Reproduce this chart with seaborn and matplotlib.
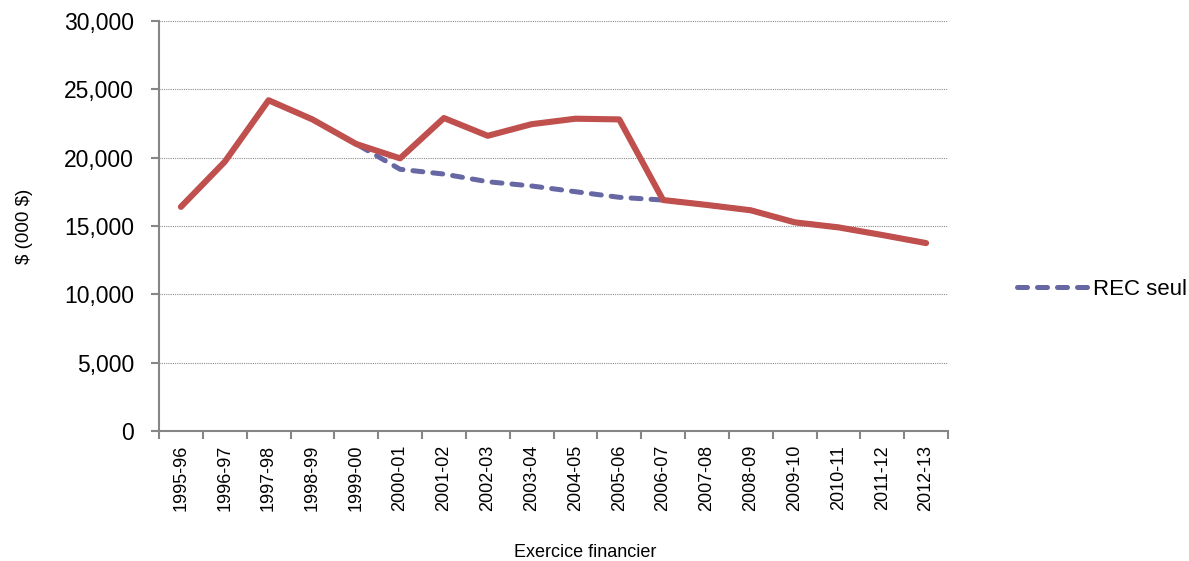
import matplotlib
matplotlib.use("Agg")
import matplotlib.pyplot as plt
import matplotlib.ticker as mticker
import seaborn as sns
import pandas as pd

years = ["1995-96", "1996-97", "1997-98", "1998-99", "1999-00", "2000-01",
         "2001-02", "2002-03", "2003-04", "2004-05", "2005-06", "2006-07",
         "2007-08", "2008-09", "2009-10", "2010-11", "2011-12", "2012-13"]
total = [16400, 19700, 24200, 22800, 21000, 19950, 22900, 21600, 22450,
         22850, 22800, 16900, 16540, 16150, 15270, 14900, 14340, 13750]
rec_seul = [16400, 19700, 24200, 22800, 21000, 19150, 18800, 18240, 17930,
            17510, 17100, 16900, 16540, 16150, 15270, 14900, 14340, 13750]
y_ticks = [0, 5000, 10000, 15000, 20000, 25000, 30000]

sns.set_style("white")
plt.rcParams["font.family"] = ["Liberation Sans", "DejaVu Sans"]
plt.rcParams["text.color"] = "black"
plt.rcParams["axes.labelcolor"] = "black"
plt.rcParams["xtick.color"] = "black"
plt.rcParams["ytick.color"] = "black"

df = pd.DataFrame({"year": years, "total": total, "rec": rec_seul})

fig = plt.figure(figsize=(11.89, 5.61), dpi=100)
ax = fig.add_axes([159 / 1189, 1 - 431 / 561, (948 - 159) / 1189, 410 / 561])

sns.lineplot(data=df, x="year", y="rec", ax=ax, color="#6667A3", linewidth=3.6,
             dashes=False, label="REC seul", zorder=3)
ax.lines[-1].set_dashes((2, 2))
ax.lines[-1].set_dash_capstyle("round")
sns.lineplot(data=df, x="year", y="total", ax=ax, color="#C0504D", linewidth=4.4,
             label="_nolegend_", zorder=4)

ax.set_xlim(-0.5, len(years) - 0.5)
ax.set_ylim(0, 30000)
ax.set_yticks(y_ticks)
ax.yaxis.set_major_formatter(mticker.FuncFormatter(lambda v, p: f"{int(v):,}"))
ax.grid(axis="y", color="#8c8c8c", linestyle=(0, (1, 1)), linewidth=0.8)
ax.grid(axis="x", visible=False)
ax.set_axisbelow(True)

for s in ["top", "right"]:
    ax.spines[s].set_visible(False)
for s in ["left", "bottom"]:
    ax.spines[s].set_color("#868686")
    ax.spines[s].set_linewidth(1.5)

ax.tick_params(axis="y", which="major", length=6, width=1.5, color="#868686",
               direction="out", labelsize=16.5, pad=12, left=True, labelcolor="black")
ax.set_xticks(range(len(years)))
ax.set_xticklabels(years, rotation=90)
ax.set_xticks([i - 0.5 for i in range(len(years) + 1)], minor=True)
ax.tick_params(axis="x", which="major", length=0, labelsize=13, pad=10, labelcolor="black")
ax.tick_params(axis="x", which="minor", length=6, width=1.5, color="#868686",
               direction="out", bottom=True)

ax.set_ylabel(r"\$ (000 \$)", fontsize=13.5, color="black")
ax.yaxis.set_label_coords(-0.160, 0.5)
ax.set_xlabel("Exercice financier", fontsize=13, color="black")
ax.xaxis.set_label_coords(0.54, -0.297)
ax.xaxis.label.set_va("center")

leg = ax.legend(loc="center left", bbox_to_anchor=(1.0875, 0.346), frameon=False,
                fontsize=16, handlelength=3.15, handletextpad=0.27, borderpad=0,
                borderaxespad=0)
for t in leg.get_texts():
    t.set_color("black")
for h in leg.get_lines():
    h.set_dashes((2, 2))
    h.set_dash_capstyle("round")
    h.set_linewidth(3.6)

fig.savefig("out.png", dpi=100)
